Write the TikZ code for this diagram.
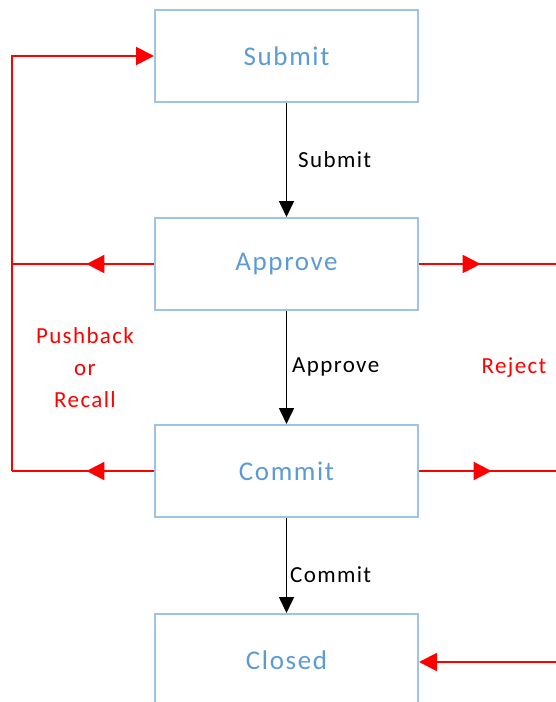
\documentclass[tikz,border=0pt]{standalone}
\usepackage{fontspec}
\setmainfont{Carlito}
\newfontfamily\widefont[LetterSpace=6]{Carlito}
\usetikzlibrary{arrows.meta,decorations.markings}
\definecolor{boxblue}{RGB}{157,195,230}
\definecolor{textblue}{RGB}{91,155,213}
\begin{document}
\begin{tikzpicture}[x=1pt,y=-1pt,
  state/.style={draw=boxblue,line width=2pt,minimum width=263pt,minimum height=92pt,inner sep=0pt,text=textblue,font=\widefont\fontsize{27}{32}\selectfont},
  flow/.style={line width=1.6pt,-{Triangle[length=16pt,width=15pt]}},
  redline/.style={red,line width=2pt},
  redtip/.style={-{Triangle[length=18pt,width=18pt]}},
  midarrow/.style={postaction=decorate,decoration={markings,mark=at position #1 with {\arrow{Triangle[length=18pt,width=18pt]}}}},
  lbl/.style={font=\widefont\fontsize{23}{32}\selectfont,inner sep=0pt},
  redlbl/.style={lbl,text=red,align=center}]
\useasboundingbox (0,0) rectangle (556,702);
\node[state] (S) at (286.5,56) {Submit};
\node[state] (A) at (286.5,264) {Approve};
\node[state] (C) at (286.5,471) {Commit};
\node[state] (D) at (286.5,660) {Closed};
% black flow
\draw[flow] (S.south) -- (A.north);
\draw[flow] (A.south) -- (C.north);
\draw[flow] (C.south) -- (D.north);
\node[lbl,anchor=west] (ls) at (298,160) {Submit};
\node[lbl,anchor=west] (la) at (292,367) {Approve};
\node[lbl,anchor=west] (lc) at (290,575) {Commit};
% left loop
\coordinate (cl) at (12,471);
\coordinate (al) at (12,264);
\draw[redline,midarrow=0.476] (A.west) -- (al);
\draw[redline,midarrow=0.476] (C.west) -- (cl);
\draw[redline,redtip] (cl) |- (S.west);
\node[redlbl] (pb) at (85,368) {Pushback\\or\\Recall};
% right reject
\coordinate (ar) at (556,264);
\coordinate (cr) at (556,471);
\coordinate (dr) at (556,662);
\draw[redline,midarrow=0.45] (A.east) -- (ar);
\draw[redline,midarrow=0.53] (C.east) -- (cr);
\draw[redline,redtip] (dr) -- (D.east |- dr);
\node[redlbl] (rj) at (514,368) {Reject};
\end{tikzpicture}
\end{document}
